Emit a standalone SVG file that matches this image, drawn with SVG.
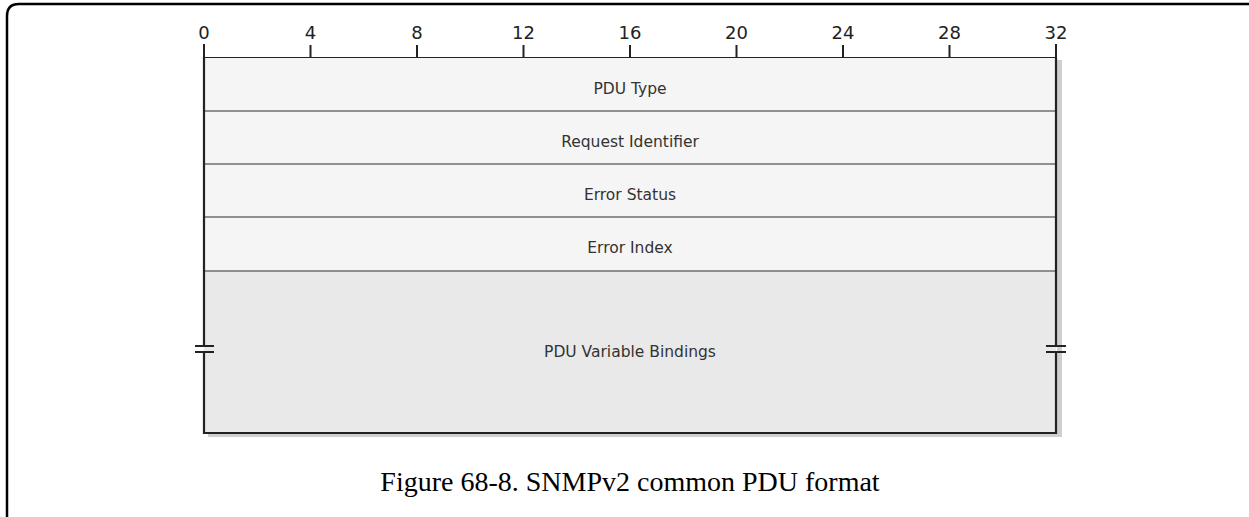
<svg xmlns="http://www.w3.org/2000/svg" width="1249" height="517" viewBox="0 0 1249 517">
<style>
.num{font-family:"DejaVu Sans",sans-serif;font-size:18px;fill:#222;text-anchor:middle}
.lbl{font-family:"DejaVu Sans",sans-serif;font-size:15.5px;fill:#333;text-anchor:middle}
.sep{stroke:#6e6e6e;stroke-width:1.5}
.tick{stroke:#222;stroke-width:2}
.cap{font-family:"Liberation Serif",serif;font-size:28px;fill:#000;text-anchor:middle}
</style>
<rect width="1249" height="517" fill="#fff"/>
<path d="M7,517 V16 Q7,4 19,4 H1249" fill="none" stroke="#000" stroke-width="2.5"/>
<g id="shadow">
<rect x="1057" y="60" width="5" height="377" fill="#cfcfcf"/>
<rect x="208" y="433" width="854" height="4" fill="#cfcfcf"/>
</g>
<g id="ruler">
<line class="tick" x1="204" y1="58" x2="1056" y2="58"/>
<line class="tick" x1="204" y1="44" x2="204" y2="58"/>
<line class="tick" x1="310.5" y1="45" x2="310.5" y2="58"/>
<line class="tick" x1="417" y1="45" x2="417" y2="58"/>
<line class="tick" x1="523.5" y1="45" x2="523.5" y2="58"/>
<line class="tick" x1="630" y1="45" x2="630" y2="58"/>
<line class="tick" x1="736.5" y1="45" x2="736.5" y2="58"/>
<line class="tick" x1="843" y1="45" x2="843" y2="58"/>
<line class="tick" x1="949.5" y1="45" x2="949.5" y2="58"/>
<line class="tick" x1="1056" y1="44" x2="1056" y2="58"/>
<text class="num" x="204" y="39">0</text>
<text class="num" x="310.5" y="39">4</text>
<text class="num" x="417" y="39">8</text>
<text class="num" x="523.5" y="39">12</text>
<text class="num" x="630" y="39">16</text>
<text class="num" x="736.5" y="39">20</text>
<text class="num" x="843" y="39">24</text>
<text class="num" x="949.5" y="39">28</text>
<text class="num" x="1056" y="39">32</text>
</g>
<g id="pdu-type">
<rect x="204" y="58" width="852" height="53" fill="#f5f5f5"/>
<text class="lbl" x="630" y="94">PDU Type</text>
</g>
<g id="request-identifier">
<rect x="204" y="111" width="852" height="53" fill="#f5f5f5"/>
<text class="lbl" x="630" y="147">Request Identifier</text>
</g>
<g id="error-status">
<rect x="204" y="164" width="852" height="53" fill="#f5f5f5"/>
<text class="lbl" x="630" y="200">Error Status</text>
</g>
<g id="error-index">
<rect x="204" y="217" width="852" height="54" fill="#f5f5f5"/>
<text class="lbl" x="630" y="253">Error Index</text>
</g>
<g id="variable-bindings">
<rect x="204" y="271" width="852" height="161" fill="#e9e9e9"/>
<text class="lbl" x="630" y="357">PDU Variable Bindings</text>
</g>
<g id="lines">
<line class="sep" x1="204" y1="111" x2="1056" y2="111"/>
<line class="sep" x1="204" y1="164" x2="1056" y2="164"/>
<line class="sep" x1="204" y1="217" x2="1056" y2="217"/>
<line class="sep" x1="204" y1="271" x2="1056" y2="271"/>
<path d="M204,57 V346 M204,352 V433 H1056 V352 M1056,346 V57" fill="none" stroke="#222" stroke-width="2.2"/>
<path d="M195,346 H214 M195,352 H214 M1046,346 H1066 M1046,352 H1066" fill="none" stroke="#222" stroke-width="1.8"/>
</g>
<text class="cap" x="630" y="491">Figure 68-8. SNMPv2 common PDU format</text>
</svg>
